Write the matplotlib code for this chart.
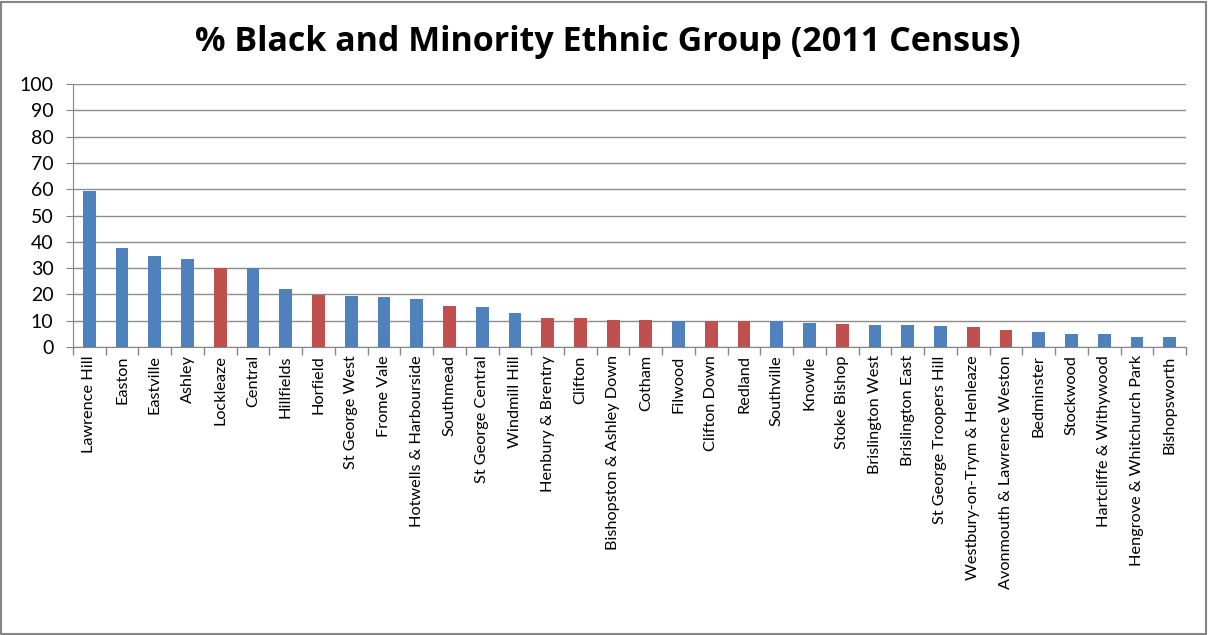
import matplotlib
matplotlib.use("Agg")
import matplotlib.pyplot as plt
from matplotlib.patches import Rectangle
import numpy as np

## Data:
wards = ["Lawrence Hill", "Easton", "Eastville", "Ashley", "Lockleaze", "Central",
         "Hillfields", "Horfield", "St George West", "Frome Vale", "Hotwells & Harbourside",
         "Southmead", "St George Central", "Windmill Hill", "Henbury & Brentry", "Clifton",
         "Bishopston & Ashley Down", "Cotham", "Filwood", "Clifton Down", "Redland",
         "Southville", "Knowle", "Stoke Bishop", "Brislington West", "Brislington East",
         "St George Troopers Hill", "Westbury-on-Trym & Henleaze",
         "Avonmouth & Lawrence Weston", "Bedminster", "Stockwood",
         "Hartcliffe & Withywood", "Hengrove & Whitchurch Park", "Bishopsworth"]
bme_pct = [59.4, 37.8, 34.5, 33.3, 30.0, 30.0, 21.9, 19.8, 19.3, 19.0, 18.3,
           15.7, 15.1, 13.0, 11.2, 11.2, 10.4, 10.1, 9.9, 9.9, 9.8,
           9.8, 9.0, 8.6, 8.5, 8.5, 8.1, 7.7, 6.6, 5.8, 4.8, 4.8, 4.0, 3.7]
highlighted = ["Lockleaze", "Horfield", "Southmead", "Henbury & Brentry", "Clifton",
               "Bishopston & Ashley Down", "Cotham", "Clifton Down", "Redland",
               "Stoke Bishop", "Westbury-on-Trym & Henleaze", "Avonmouth & Lawrence Weston"]

blue = "#4F81BD"
red = "#C0504D"
colors = [red if w in highlighted else blue for w in wards]

plt.rcParams['font.family'] = ['Lato', 'DejaVu Sans']

fig = plt.figure(figsize=(12.08, 6.35), dpi=100)
fig.patches.append(Rectangle((0.001, 0.002), 0.997, 0.995, transform=fig.transFigure,
                             fill=False, edgecolor="#868686", linewidth=1.5))

ax = fig.add_axes([0.0604, 0.4535, 0.9214, 0.4142])
x = np.arange(len(wards))
ax.bar(x, bme_pct, width=0.39, color=colors, zorder=3)

ax.set_xlim(-0.5, len(wards) - 0.5)
ax.set_ylim(0, 100)
ax.set_yticks(range(0, 101, 10))
ax.tick_params(axis='y', labelsize=14, length=5, color="#868686", pad=9)
ax.yaxis.grid(True, color="#8c8c8c", linewidth=1, zorder=0)

# category labels at bar centres, ticks between categories
ax.set_xticks(x)
ax.set_xticklabels(wards, rotation=90, fontsize=11.7)
ax.tick_params(axis='x', length=0, pad=6)
ax.set_xticks(np.arange(-0.5, len(wards)), minor=True)
ax.tick_params(axis='x', which='minor', length=6, color="#868686", width=1)

for side in ["top", "right"]:
    ax.spines[side].set_visible(False)
ax.spines["left"].set_color("#868686")
ax.spines["bottom"].set_color("#868686")

fig.text(0.503, 0.934, "% Black and Minority Ethnic Group (2011 Census)",
         ha="center", va="center", fontsize=24.5, fontweight="bold", family="Open Sans")

fig.savefig("out.png", dpi=100)
